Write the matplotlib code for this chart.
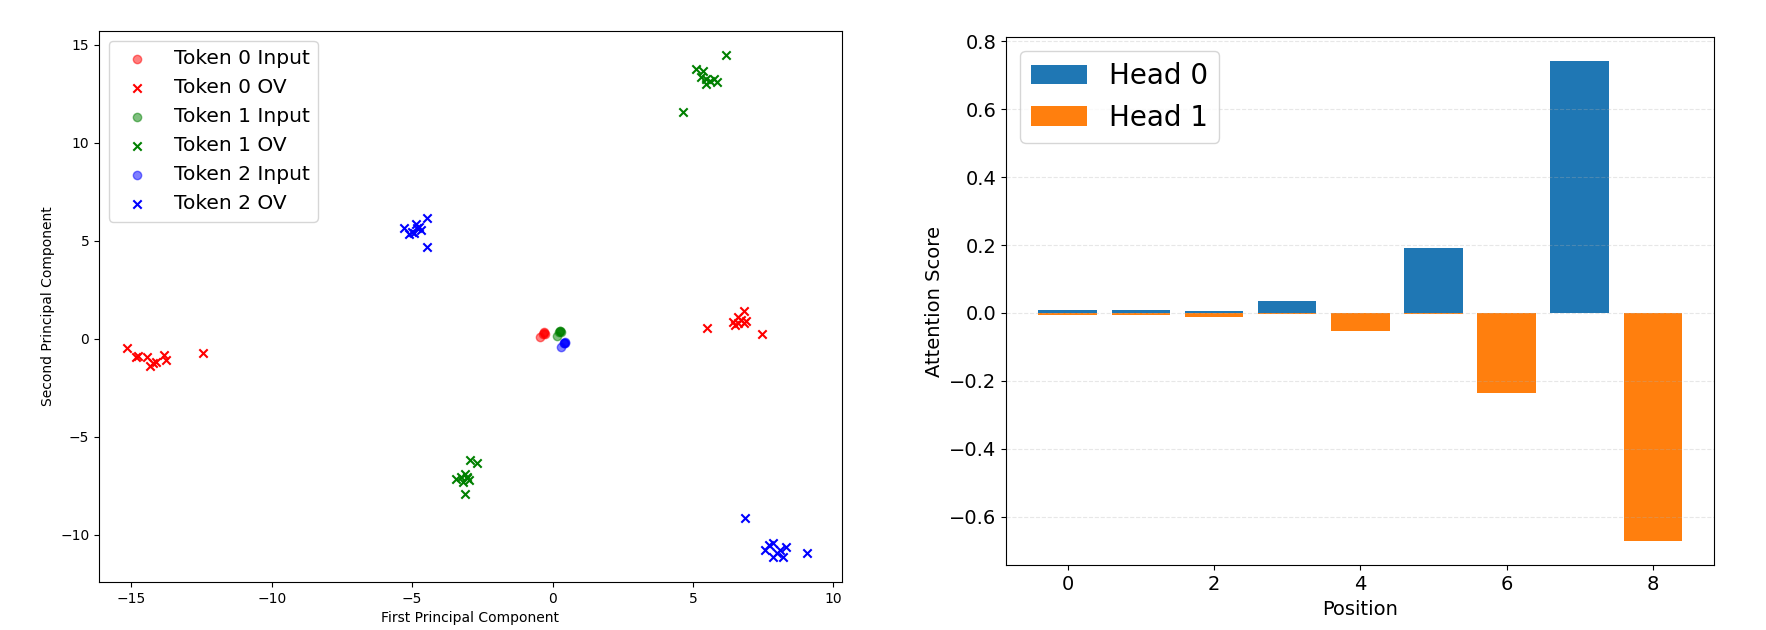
import numpy as np
import matplotlib
matplotlib.use("Agg")
import matplotlib.pyplot as plt

# PCA projections (x, y)
token0_input = [(-0.32, 0.29), (-0.30, 0.32), (-0.28, 0.25), (-0.35, 0.22), (-0.44, 0.07)]
token0_ov = [(-15.16, -0.48), (-14.84, -0.94), (-14.76, -0.90), (-14.46, -0.94), (-14.32, -1.39),
             (-14.23, -1.26), (-14.11, -1.17), (-13.85, -0.84), (-13.75, -1.08), (-12.46, -0.73),
             (5.51, 0.54), (6.41, 0.83), (6.59, 1.13), (6.83, 1.44), (6.71, 0.96),
             (6.83, 0.79), (6.59, 0.79), (6.89, 0.88), (6.50, 0.71), (7.46, 0.25)]
token1_input = [(0.26, 0.38), (0.28, 0.42), (0.24, 0.35), (0.30, 0.33), (0.14, 0.16)]
token1_ov = [(6.16, 14.49), (5.09, 13.74), (5.37, 13.64), (5.29, 13.35), (5.47, 13.27),
             (5.59, 13.13), (5.76, 13.23), (5.85, 13.09), (5.45, 13.00), (4.65, 11.56),
             (-2.94, -6.20), (-2.70, -6.33), (-3.45, -7.18), (-3.27, -7.05), (-3.13, -6.91),
             (-3.06, -7.13), (-2.98, -7.22), (-3.18, -7.30), (-3.04, -7.05), (-3.13, -7.93)]
token2_input = [(0.41, -0.20), (0.43, -0.16), (0.39, -0.24), (0.45, -0.22), (0.29, -0.44)]
token2_ov = [(-4.47, 6.15), (-5.30, 5.67), (-5.12, 5.33), (-5.00, 5.47), (-4.85, 5.84),
             (-4.83, 5.64), (-4.70, 5.55), (-4.94, 5.38), (-4.77, 5.72), (-4.49, 4.67),
             (6.85, -9.16), (7.56, -10.78), (7.72, -10.52), (7.86, -10.44), (8.10, -10.78),
             (8.31, -10.61), (8.22, -11.15), (7.86, -11.15), (7.98, -10.91), (9.07, -10.95)]

positions = list(range(9))
head0 = [0.009, 0.010, 0.007, 0.036, 0.001, 0.191, 0.0, 0.742, 0.0]
head1 = [-0.006, -0.006, -0.012, -0.003, -0.052, -0.002, -0.237, 0.0, -0.673]

fig = plt.figure(figsize=(17.66, 6.3), dpi=100)

# left: PCA scatter
ax1 = fig.add_axes([0.0561, 0.0762, 0.4206, 0.8746])
tokens = [(token0_input, token0_ov, 'red'), (token1_input, token1_ov, 'green'),
          (token2_input, token2_ov, 'blue')]
for i, (inp, ov, c) in enumerate(tokens):
    inp = np.array(inp)
    ov = np.array(ov)
    ax1.scatter(inp[:, 0], inp[:, 1], color=c, alpha=0.5, label=f'Token {i} Input')
    ax1.scatter(ov[:, 0], ov[:, 1], color=c, marker='x', label=f'Token {i} OV')
ax1.set_xlim(-16.15, 10.30)
ax1.set_ylim(-12.41, 15.70)
ax1.set_xlabel('First Principal Component')
ax1.set_ylabel('Second Principal Component')
ax1.legend(loc='upper left', fontsize=14.5)

# right: attention scores
ax2 = fig.add_axes([0.5698, 0.1024, 0.4009, 0.8389])
ax2.bar(positions, head0, label='Head 0')
ax2.bar(positions, head1, label='Head 1')
ax2.grid(axis='y', linestyle='--', alpha=0.3)
ax2.set_xlabel('Position', fontsize=14)
ax2.set_ylabel('Attention Score', fontsize=14)
ax2.tick_params(labelsize=14)
ax2.legend(loc='upper left', fontsize=20)

fig.savefig('out.png', dpi=100)
